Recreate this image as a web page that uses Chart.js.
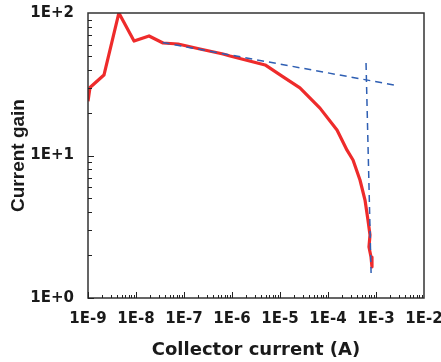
<!DOCTYPE html>
<html lang="en">
<head>
  <meta charset="UTF-8">
  <title>Current gain vs collector current</title>
  <script src="https://cdn.jsdelivr.net/npm/chart.js"></script>
  <style>
    html, body { margin: 0; padding: 0; background: #fff; }
    #wrap { width: 441px; height: 362px; }
  </style>
</head>
<body>
<div id="wrap"><canvas id="myChart" width="441" height="362"></canvas></div>

<script>
  // measured curve (collector current in A, current gain)
  const gainCurrent = [1.0e-9, 1.1e-9, 2.15e-9, 4.4e-9, 9.1e-9, 1.87e-8, 3.65e-8, 7.5e-8, 2.15e-7, 6.5e-7,
    9.1e-7, 4.9e-6, 1.1e-5, 2.6e-5, 6.8e-5, 1.54e-4, 2.49e-4, 3.32e-4, 4.64e-4, 5.9e-4,
    6.8e-4, 7.5e-4, 7.14e-4, 7.87e-4, 8.25e-4];
  const gainValues = [24, 30, 36.7, 100, 63.6, 69, 61.6, 60.6, 55.9, 51.6,
    49.9, 43.2, 36.1, 29.8, 21.5, 15.1, 10.9, 9.3, 6.73, 4.87,
    3.53, 2.77, 2.28, 1.94, 1.65];

  // dashed guide lines
  const slopeCurrent = [3.6e-8, 2.7e-3];
  const slopeValues = [62, 31];
  const dropCurrent = [6.2e-4, 7.9e-4];
  const dropValues = [44.6, 1.5];

  const xTickValues = [1e-9, 1e-8, 1e-7, 1e-6, 1e-5, 1e-4, 1e-3, 1e-2];
  const yTickValues = [1, 10, 100];

  function toPoints(xs, ys) {
    return xs.map((x, i) => ({ x: x, y: ys[i] }));
  }

  function expLabel(v) {
    const e = Math.round(Math.log10(v));
    return '1E' + (e >= 0 ? '+' : '') + e;
  }

  const tickFont = { family: 'DejaVu Sans', size: 15, weight: 'bold' };

  // box around the plot and the small inside tick marks
  const frameTicks = {
    id: 'frameTicks',
    afterDraw(chart) {
      const ctx = chart.ctx;
      const a = chart.chartArea;
      const xs = chart.scales.x, ys = chart.scales.y;
      ctx.save();
      ctx.strokeStyle = '#333';
      ctx.lineWidth = 1.5;
      ctx.strokeRect(a.left, a.top, a.right - a.left, a.bottom - a.top);
      ctx.lineWidth = 1;
      ctx.strokeStyle = '#222';
      ctx.beginPath();
      for (let d = -9; d < -2; d++) {
        for (let m = 1; m <= 9; m++) {
          const px = Math.round(xs.getPixelForValue(m * Math.pow(10, d))) + 0.5;
          const len = m === 1 ? 6 : 3;
          ctx.moveTo(px, a.bottom);
          ctx.lineTo(px, a.bottom - len);
        }
      }
      for (let d = 0; d < 2; d++) {
        for (let m = 1; m <= 9; m++) {
          const py = Math.round(ys.getPixelForValue(m * Math.pow(10, d))) + 0.5;
          const len = m === 1 ? 6 : 4;
          ctx.moveTo(a.left, py);
          ctx.lineTo(a.left + len, py);
        }
      }
      ctx.stroke();
      ctx.restore();
    }
  };

  const data = {
    datasets: [
      {
        label: 'slope',
        data: toPoints(slopeCurrent, slopeValues),
        borderColor: '#2f5fb3',
        borderWidth: 1.5,
        borderDash: [7, 5],
        pointRadius: 0,
        order: 1
      },
      {
        label: 'drop',
        data: toPoints(dropCurrent, dropValues),
        borderColor: '#2f5fb3',
        borderWidth: 1.5,
        borderDash: [7, 5],
        pointRadius: 0,
        order: 1
      },
      {
        label: 'gain',
        data: toPoints(gainCurrent, gainValues),
        borderColor: '#ee2b2b',
        borderWidth: 3.2,
        pointRadius: 0,
        borderJoinStyle: 'round',
        order: 2
      }
    ]
  };

  const config = {
    type: 'line',
    data: data,
    options: {
      responsive: false,
      animation: false,
      events: [],
      layout: { padding: { top: 13, right: 17, left: 0, bottom: 0 } },
      plugins: {
        legend: { display: false },
        tooltip: { enabled: false }
      },
      scales: {
        x: {
          type: 'logarithmic',
          min: 1e-9,
          max: 1e-2,
          grid: { display: false, drawTicks: false },
          border: { display: false },
          afterBuildTicks(scale) {
            scale.ticks = xTickValues.map(v => ({ value: v }));
          },
          afterFit(scale) {
            scale.height = 64;
            scale.paddingLeft = 0;
            scale.paddingRight = 0;
          },
          ticks: {
            autoSkip: false,
            maxRotation: 0,
            padding: 12,
            color: '#1a1a1a',
            font: tickFont,
            callback: v => expLabel(v)
          },
          title: {
            display: true,
            text: 'Collector current (A)',
            color: '#1a1a1a',
            font: { family: 'DejaVu Sans', size: 18, weight: 'bold' },
            padding: { top: 0, bottom: 1 }
          }
        },
        y: {
          type: 'logarithmic',
          min: 1,
          max: 100,
          grid: { display: false, drawTicks: false },
          border: { display: false },
          afterBuildTicks(scale) {
            scale.ticks = yTickValues.map(v => ({ value: v }));
          },
          afterFit(scale) {
            scale.width = 88;
            scale.paddingTop = 0;
            scale.paddingBottom = 0;
          },
          ticks: {
            autoSkip: false,
            padding: 14,
            color: '#1a1a1a',
            font: tickFont,
            callback: v => expLabel(v)
          },
          title: {
            display: true,
            text: 'Current gain',
            color: '#1a1a1a',
            font: { family: 'Liberation Sans', size: 19, weight: 'bold' },
            padding: { top: 7, bottom: 0 }
          }
        }
      }
    },
    plugins: [frameTicks]
  };

  const ctx = document.getElementById('myChart').getContext('2d');
  new Chart(ctx, config);
</script>
</body>
</html>
